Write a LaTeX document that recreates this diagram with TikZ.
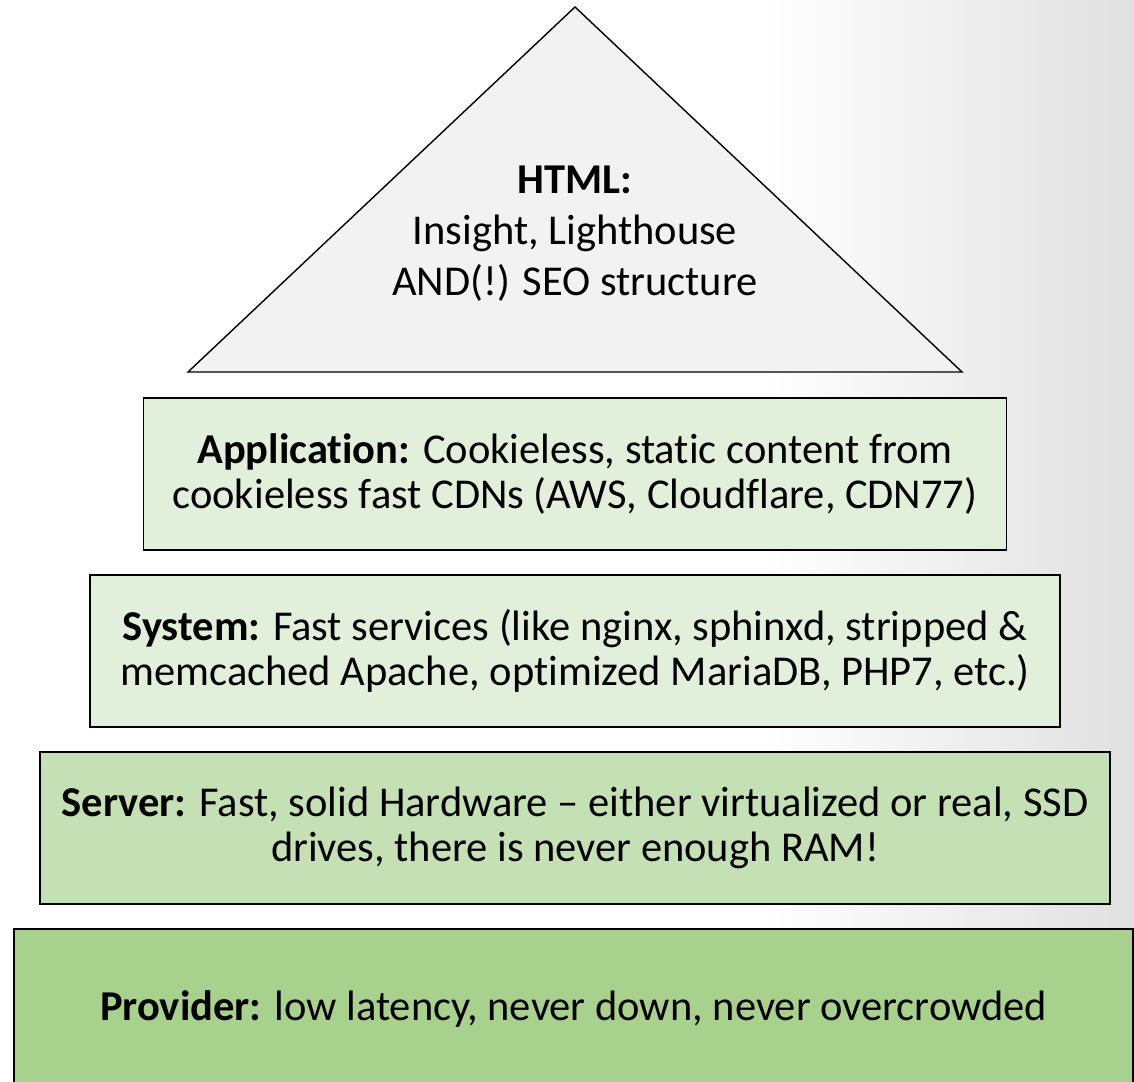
\documentclass[tikz,border=0pt]{standalone}
\usepackage{fontspec}
\setmainfont{Carlito}[Ligatures=NoCommon]
\usetikzlibrary{positioning}

\definecolor{layerlight}{HTML}{E2EFDA}
\definecolor{layermid}{HTML}{C5E0B4}
\definecolor{layerdark}{HTML}{A9D18E}
\definecolor{peakgray}{HTML}{F2F2F2}

\begin{document}
\begin{tikzpicture}[x=1pt,y=-1pt,node distance=177pt,on grid,
   layer/.style={rectangle,draw=black,line width=1.8pt,align=center,inner sep=0pt,
      minimum height=152pt,font=\fontsize{42.5}{45.5}\selectfont},
   peak/.style={draw=black,line width=1.4pt,fill=peakgray}]
   % background
   \useasboundingbox (0,0) rectangle (1134,1081);
   \fill[white] (0,0) rectangle (1134,1081);
   \shade[left color=white,right color=black!12] (760,0) rectangle (1134,1081);
   % top of the pyramid
   \coordinate (apex) at (575,7);
   \coordinate (bl) at (188,372);
   \coordinate (br) at (962,372);
   \draw[peak] (apex) -- (br) -- (bl) -- cycle;
   \node[align=center,font=\fontsize{42.5}{51}\selectfont] (html) at (575,234)
      {\textbf{HTML:}\\Insight, Lighthouse\\AND(!) SEO structure};
   % layers
   \node[layer,fill=layerlight,minimum width=863pt] (app) at (575,474)
      {\textbf{Application:} Cookieless, static content from\\cookieless fast CDNs (AWS, Cloudflare, CDN77)};
   \node[layer,fill=layerlight,minimum width=970pt] (sys) [below=of app]
      {\textbf{System:} Fast services (like nginx, sphinxd, stripped \&\\memcached Apache, optimized MariaDB, PHP7, etc.)};
   \node[layer,fill=layermid,minimum width=1070pt] (serv) [below=of sys]
      {\textbf{Server:} Fast, solid Hardware -- either virtualized or real, SSD\\drives, there is never enough RAM!};
   \node[layer,fill=layerdark,minimum width=1119pt,minimum height=160pt] (prov) [below=of serv,xshift=-1.5pt,yshift=-4pt]
      {\textbf{Provider:} low latency, never down, never overcrowded};
\end{tikzpicture}
\end{document}
